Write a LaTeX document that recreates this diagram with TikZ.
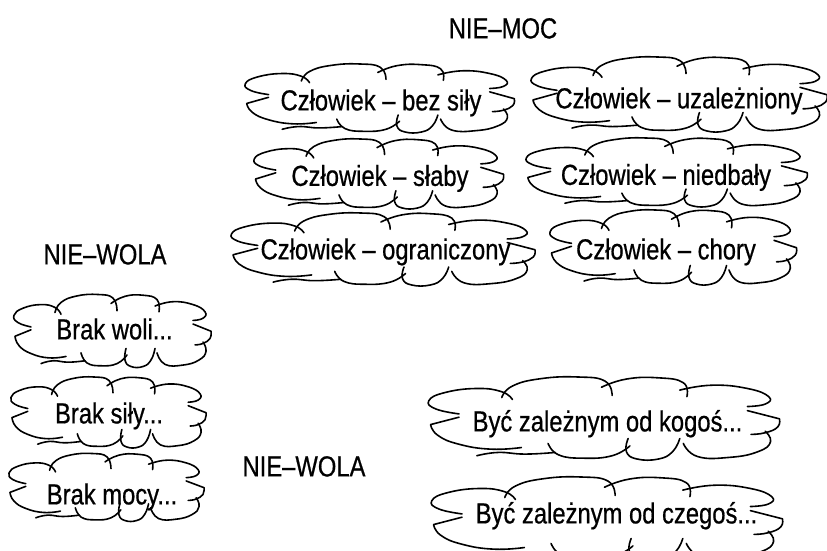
\documentclass[tikz,border=0pt]{standalone}
\usepackage{fontspec}
\setmainfont{Liberation Sans}[FakeStretch=0.82,FakeBold=0.6]
\tikzset{
  cloudline/.style={line width=1.2pt, line cap=round, line join=round},
  lbl/.style={inner sep=0pt, text height=15.6pt, text depth=0pt,
              font=\fontsize{21.75pt}{26pt}\selectfont}
}
\newcommand\cloudoutline{%
  \draw[cloudline] plot[smooth,tension=0.8] coordinates {(-0.82,-0.10) (-0.95,-0.22) (-0.99,-0.42) (-0.90,-0.62) (-0.72,-0.72) (-0.58,-0.64) (-0.52,-0.45)};
  \draw[cloudline] plot[smooth,tension=0.8] coordinates {(-0.58,-0.50) (-0.52,-0.78) (-0.36,-0.96) (-0.15,-1.0) (0.0,-0.90) (0.04,-0.55)};
  \draw[cloudline] plot[smooth,tension=0.8] coordinates {(-0.02,-0.75) (0.12,-0.95) (0.30,-0.98) (0.44,-0.86) (0.46,-0.52)};
  \draw[cloudline] plot[smooth,tension=0.8] coordinates {(0.42,-0.68) (0.60,-0.80) (0.80,-0.72) (0.92,-0.52) (0.90,-0.34) (0.80,-0.28)};
  \draw[cloudline] (0.80,-0.18) -- plot[smooth,tension=0.8] coordinates {(0.98,0.02) (0.97,0.22) (0.90,0.36) (0.82,0.40)};
  \draw[cloudline] plot[smooth,tension=0.8] coordinates {(0.90,0.32) (0.93,0.58) (0.86,0.82) (0.70,0.96) (0.52,0.94) (0.44,0.62)};
  \draw[cloudline] plot[smooth,tension=0.8] coordinates {(0.42,0.50) (0.38,0.82) (0.30,1.0) (0.18,1.0) (0.12,0.82) (0.13,0.50)};
  \draw[cloudline] plot[smooth,tension=0.8] coordinates {(0.14,0.68) (0.04,0.92) (-0.12,0.98) (-0.26,0.90) (-0.32,0.62)};
  \draw[cloudline] plot[smooth,tension=0.8] coordinates {(-0.72,0.92) (-0.60,0.84) (-0.45,0.88) (-0.28,0.84)};
  \draw[cloudline] (-0.82,-0.02) -- plot[smooth,tension=0.8] coordinates {(-0.98,0.16) (-0.94,0.42) (-0.82,0.64) (-0.64,0.76) (-0.47,0.72)};
}
\newcommand\cloudat[4]{% cx, cy, half width, half height
  \begin{scope}[shift={(#1,#2)}, xscale=#3, yscale=#4]\cloudoutline\end{scope}}
\begin{document}
\begin{tikzpicture}[x=0.75pt, y=-0.75pt]
\useasboundingbox (0,0) rectangle (827,550);
\clip (0,0) rectangle (827,550);
% headings
\node[lbl] (niemoc) at (503,28) {NIE–MOC};
\node[lbl] (niewolaA) at (105,254) {NIE–WOLA};
\node[lbl] (niewolaB) at (304,466) {NIE–WOLA};
% clouds
\cloudat{380.5}{98}{136.5}{34}
\node[lbl] (c1) at (381,100) {Człowiek – bez siły};
\cloudat{379.5}{173.5}{126.5}{34.5}
\node[lbl] (c2) at (380,175.5) {Człowiek – słaby};
\cloudat{384}{249}{154}{36}
\node[lbl] (c3) at (385.5,249) {Człowiek – ograniczony};
\cloudat{680}{94}{150}{37}
\node[lbl] (c4) at (679,98) {Człowiek – uzależniony};
\cloudat{667.5}{172}{142.5}{34}
\node[lbl] (c5) at (666,174.5) {Człowiek – niedbały};
\cloudat{674}{247}{125}{37}
\node[lbl] (c6) at (666,249) {Człowiek – chory};
\cloudat{113}{330.5}{100}{36}
\node[lbl] (b1) at (114.5,329) {Brak woli...};
\cloudat{109}{412}{99}{35}
\node[lbl] (b2) at (109,413) {Brak siły...};
\cloudat{107}{487}{99}{33.5}
\node[lbl] (b3) at (112,494) {Brak mocy...};
\cloudat{605}{418}{178}{41}
\node[lbl] (z1) at (607.5,421) {Być zależnym od kogoś...};
\cloudat{608}{518}{178}{41}
\node[lbl] (z2) at (616.5,513) {Być zależnym od czegoś...};
\end{tikzpicture}
\end{document}
